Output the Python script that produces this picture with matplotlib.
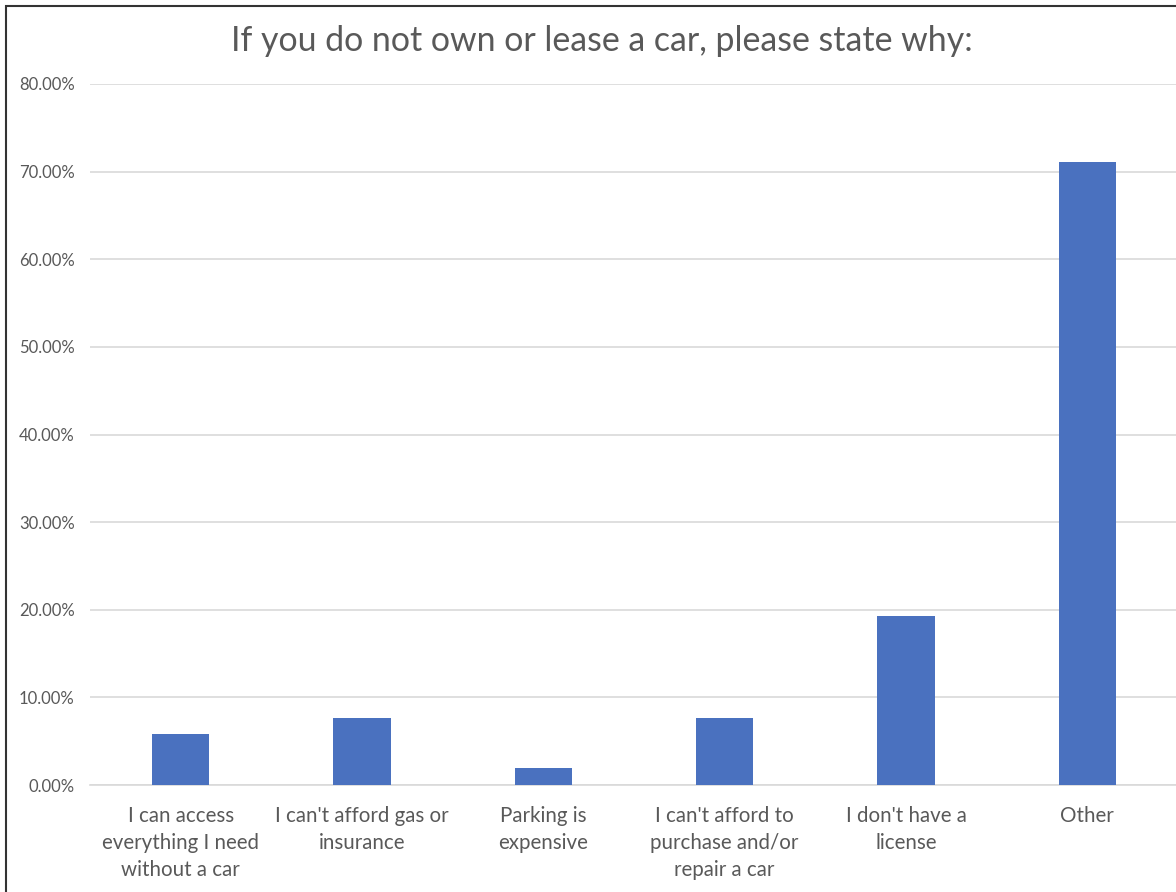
import numpy as np
from matplotlib import pyplot as plt
from matplotlib.patches import Rectangle
from matplotlib.ticker import FuncFormatter

categories = ["I can access\neverything I need\nwithout a car",
              "I can't afford gas or\ninsurance",
              "Parking is\nexpensive",
              "I can't afford to\npurchase and/or\nrepair a car",
              "I don't have a\nlicense",
              "Other"]
values = [0.0577, 0.0769, 0.0192, 0.0769, 0.1923, 0.7115]
yticks = [0.0, 0.1, 0.2, 0.3, 0.4, 0.5, 0.6, 0.7, 0.8]

plt.rcParams['font.family'] = ['Lato', 'DejaVu Sans']
grey = "#595959"

fig = plt.figure(figsize=(11.76, 8.92), dpi=100)
ax = fig.add_axes([90/1176, 107/892, 1088/1176, 701/892])

x = np.arange(len(categories))
ax.bar(x, values, width=0.315, color="#4A71BF", zorder=3)

ax.set_xlim(-0.5, len(categories) - 0.5)
ax.set_ylim(0, 0.8)
ax.set_yticks(yticks)
ax.yaxis.set_major_formatter(FuncFormatter(lambda v, p: f"{v*100:.2f}%"))
ax.set_xticks(x)
ax.set_xticklabels(categories, fontsize=14.8, color=grey, linespacing=1.45)
ax.tick_params(axis='y', labelsize=12, labelcolor=grey, length=0, pad=11)
ax.tick_params(axis='x', length=0, pad=15)
ax.grid(axis='y', color="#d9d9d9", linewidth=1.2, zorder=0)
for s in ["top", "right", "left"]:
    ax.spines[s].set_visible(False)
ax.spines["bottom"].set_color("#d9d9d9")
ax.spines["bottom"].set_linewidth(1.2)

fig.text(602/1176, 1 - 41/892, "If you do not own or lease a car, please state why:",
         ha="center", va="center", fontsize=24.4, color=grey)

fig.patches.append(Rectangle((6/1176, -0.1), 1.2, 1 - 6/892 + 0.1,
                             transform=fig.transFigure, fill=False,
                             edgecolor="#333333", linewidth=1.5))

fig.savefig("out.png", dpi=100)
